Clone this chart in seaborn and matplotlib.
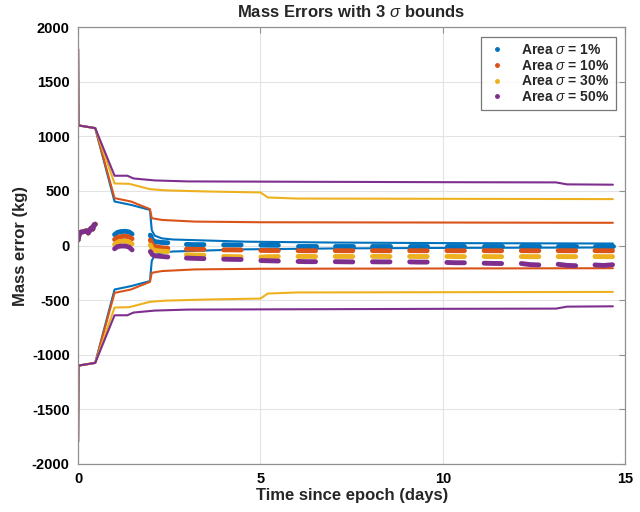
import matplotlib
matplotlib.use("Agg")
import numpy as np
import pandas as pd
import seaborn as sns
import matplotlib.pyplot as plt
from matplotlib.lines import Line2D

sns.set_theme(style="white")
plt.rcParams["font.family"] = ["Liberation Sans", "DejaVu Sans"]
plt.rcParams["mathtext.fontset"] = "custom"
plt.rcParams["mathtext.rm"] = "Liberation Sans"
plt.rcParams["mathtext.it"] = "Liberation Sans:italic"
plt.rcParams["mathtext.bf"] = "Liberation Sans:bold"
plt.rcParams["axes.unicode_minus"] = False

# ---- series ----
labels = ["Area $\\sigma$ = 1%", "Area $\\sigma$ = 10%",
          "Area $\\sigma$ = 30%", "Area $\\sigma$ = 50%"]
colors = ["#0072BD", "#D95319", "#EDB120", "#7E2F8E"]

# ---- 3-sigma bounds (kg); lower bound is the negative ----
bound_t_1 = [0.0, 0.01, 0.47, 1.0, 1.45, 1.97, 2.02, 2.1, 2.3, 2.6, 3.3, 4.6, 7.0, 10.0, 14.66]
bound_1 = [1800, 1100, 1075, 403, 372, 326, 140, 90, 65, 55, 48, 35, 27, 22, 18]

bound_t_10 = [0.0, 0.01, 0.47, 1.0, 1.45, 1.97, 2.02, 2.3, 3.2, 5.0, 14.66]
bound_10 = [1800, 1100, 1075, 434, 403, 333, 250, 234, 219, 213, 208]

bound_t_30 = [0.0, 0.01, 0.47, 1.0, 1.4, 1.97, 2.4, 3.5, 5.0, 5.2, 6.0, 14.66]
bound_30 = [1800, 1100, 1075, 568, 565, 516, 505, 495, 486, 440, 430, 425]

bound_t_50 = [0.0, 0.01, 0.47, 1.0, 1.35, 1.52, 2.1, 3.0, 5.0, 10.0, 13.1, 13.4, 14.66]
bound_50 = [1800, 1100, 1075, 639, 639, 614, 596, 587, 585, 580, 578, 560, 557]

# ---- estimated mass error during tracking passes (kg) ----
err_t = [0.00, 0.03, 0.06, 0.12, 0.18, 0.24, 0.28, 0.32, 0.36, 0.40, 0.44, 0.47,
         1.00, 1.08, 1.18, 1.30, 1.40, 1.48,
         1.98, 2.04, 2.12, 2.28, 2.46,
         2.97, 3.21, 3.45,
         3.99, 4.23, 4.47,
         5.01, 5.25, 5.49,
         6.03, 6.27, 6.51,
         7.05, 7.29, 7.53,
         8.07, 8.31, 8.55,
         9.09, 9.33, 9.57,
         10.11, 10.35, 10.59,
         11.13, 11.37, 11.61,
         12.15, 12.39, 12.63,
         13.16, 13.40, 13.64,
         14.17, 14.41, 14.65]

first_pass = [50, 105, 120, 125, 130, 135, 115, 140, 160, 150, 190, 195]

err_1 = first_pass + [100, 120, 128, 130, 124, 105,
                      95, 50, 35, 28, 25,
                      10, 8, 8,
                      6, 5, 5,
                      3, 2, 2,
                      0, 0, 0,
                      0, 0, 0,
                      0, 0, 0,
                      0, 0, 0,
                      0, 0, 0,
                      0, 0, 0,
                      0, 0, 0,
                      0, 0, 0,
                      0, 0, 0]
err_10 = first_pass + [55, 75, 82, 85, 78, 62,
                       50, 5, -10, -20, -25,
                       -33, -35, -36,
                       -40, -40, -41,
                       -45, -46, -46,
                       -47, -48, -48,
                       -47, -48, -48,
                       -47, -48, -48,
                       -47, -48, -48,
                       -47, -48, -48,
                       -47, -48, -48,
                       -47, -48, -48,
                       -47, -48, -48,
                       -47, -48, -48]
err_30 = first_pass + [10, 30, 38, 40, 32, 15,
                       5, -35, -45, -52, -55,
                       -85, -88, -90,
                       -100, -102, -103,
                       -106, -102, -101,
                       -100, -100, -101,
                       -100, -100, -101,
                       -100, -100, -101,
                       -100, -101, -101,
                       -100, -101, -102,
                       -101, -102, -102,
                       -101, -102, -102,
                       -101, -102, -102,
                       -101, -102, -102]
err_50 = first_pass + [-30, -10, -5, -5, -15, -40,
                       -55, -85, -95, -100, -105,
                       -115, -118, -120,
                       -125, -127, -128,
                       -138, -140, -142,
                       -146, -148, -148,
                       -148, -149, -150,
                       -149, -150, -150,
                       -150, -152, -152,
                       -155, -158, -158,
                       -162, -164, -165,
                       -165, -175, -178,
                       -172, -182, -185,
                       -178, -183, -176]

bounds_t = [bound_t_1, bound_t_10, bound_t_30, bound_t_50]
bounds = [bound_1, bound_10, bound_30, bound_50]
errs = [err_1, err_10, err_30, err_50]

t_err = np.asarray(err_t)
pass_id = np.concatenate([[0], np.cumsum(np.diff(t_err) > 0.3)])

fig = plt.figure(figsize=(6.4, 5.12), dpi=100)
ax = fig.add_axes([0.122, 0.094, 0.855, 0.853])

for lab, col, bt, bv, ev in zip(labels, colors, bounds_t, bounds, errs):
    edf = pd.DataFrame({"t": t_err, "err": ev, "pass": pass_id})
    sns.lineplot(data=edf, x="t", y="err", units="pass", estimator=None,
                 sort=False, color=col, lw=3.5, solid_capstyle="round",
                 legend=False, ax=ax)
    bt = np.asarray(bt, dtype=float)
    bv = np.asarray(bv, dtype=float)
    bdf = pd.DataFrame({"t": np.concatenate([bt, bt]),
                        "bound": np.concatenate([bv, -bv]),
                        "side": ["+"] * len(bt) + ["-"] * len(bt)})
    sns.lineplot(data=bdf, x="t", y="bound", units="side", estimator=None,
                 sort=False, color=col, lw=1.5, legend=False, ax=ax)

ax.set_xlim(0, 15)
ax.set_ylim(-2000, 2000)
ax.set_xticks([0, 5, 10, 15])
ax.set_yticks(np.arange(-2000, 2001, 500))
ax.grid(True, color="#e3e3e3", lw=0.8)
ax.set_axisbelow(True)

spine_col = "#909090"
for s in ax.spines.values():
    s.set_visible(True)
    s.set_color(spine_col)
    s.set_linewidth(0.9)
ax.tick_params(direction="in", length=4, width=0.8, color=spine_col,
               top=True, right=True, labelsize=10.5, labelcolor="black", pad=6)
for lbl in ax.get_xticklabels() + ax.get_yticklabels():
    lbl.set_fontweight("bold")

ax.set_xlabel("Time since epoch (days)", fontsize=12, fontweight="bold", labelpad=1)
ax.set_ylabel("Mass error (kg)", fontsize=12, fontweight="bold", labelpad=3)
ax.set_title("Mass Errors with 3 $\\sigma$ bounds", fontsize=12, fontweight="bold", pad=7)

handles = [Line2D([], [], color=c, marker=".", ls="none", markersize=5) for c in colors]
leg = ax.legend(handles, labels, loc="upper right", frameon=True, fancybox=False,
                prop={"weight": "bold", "size": 10}, borderaxespad=0.7,
                handlelength=1.3, handletextpad=1.1, labelspacing=0.12,
                borderpad=0.45)
leg.get_frame().set_edgecolor("#555555")
leg.get_frame().set_linewidth(0.9)

fig.savefig("out.png", dpi=100)
